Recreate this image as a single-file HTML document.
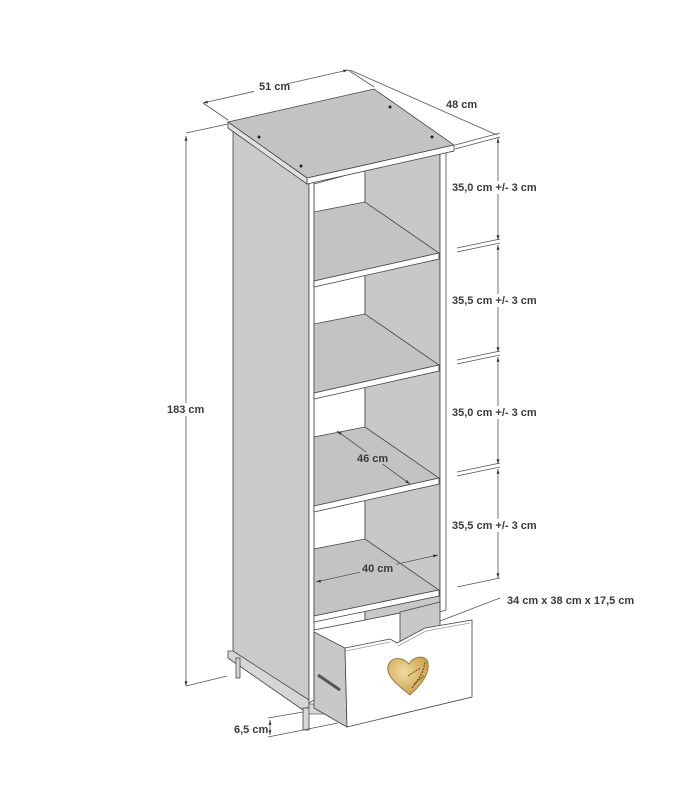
<!DOCTYPE html>
<html><head><meta charset="utf-8"><style>
html,body{margin:0;padding:0;background:#fff;}
svg{display:block;}
text{font-family:"Liberation Sans",sans-serif;font-weight:bold;font-size:11px;fill:#3a3a3a;}
</style></head><body>
<svg width="688" height="800" viewBox="0 0 688 800" xmlns="http://www.w3.org/2000/svg">
<defs>
<marker id="a" viewBox="0 0 10 10" refX="10" refY="5" markerWidth="6" markerHeight="6" orient="auto-start-reverse"><path d="M0,2 L10,5 L0,8z" fill="#333"/></marker>
<radialGradient id="g" cx="0.4" cy="0.4" r="0.7"><stop offset="0" stop-color="#f1dca0"/><stop offset="1" stop-color="#c79a45"/></radialGradient>
</defs>
<g stroke="#444" stroke-width="0.8">
<!-- side panel -->
<polygon points="233,128 309,178 309,703 233,652" fill="#cacaca"/>
<!-- plinth -->
<polygon points="228,651 233,651 309,700 309,707 303,710 228,658" fill="#d6d6d6"/>
<rect x="236" y="658" width="4" height="20" fill="#d6d6d6"/>
<rect x="303" y="708" width="6" height="22" fill="#d6d6d6"/>
<rect x="309" y="704" width="40" height="10" fill="#d6d6d6" stroke="#666"/>
<!-- inner back white and right wall -->
<polygon points="314,184 365,170 365,620 314,630" fill="#fff"/>
<polygon points="365,170 440,152 440,605 365,620" fill="#c8c8c8"/>
<!-- right front strip -->
<polygon points="440,151 446,150 446,610 440,612" fill="#fff"/>
<!-- left front strip -->
<polygon points="309,180 314,182 314,700 309,703" fill="#fff"/>
</g>
<!-- shelves -->
<g stroke="#444" stroke-width="0.8">
<polygon points="314,212 365,202 439,253 314,281" fill="#c3c3c3"/>
<polygon points="314,281 439,253 439,259 314,287" fill="#fff"/>
<polygon points="314,324 365,314 439,365 314,393" fill="#c3c3c3"/>
<polygon points="314,393 439,365 439,371 314,399" fill="#fff"/>
<polygon points="314,437 365,427 439,478 314,506" fill="#c3c3c3"/>
<polygon points="314,506 439,478 439,484 314,512" fill="#fff"/>
<polygon points="314,549 365,539 439,590 314,616" fill="#c3c3c3"/>
<polygon points="314,616 439,590 439,596 314,622" fill="#fff"/>
</g>
<!-- top slab -->
<g stroke="#444" stroke-width="0.8">
<polygon points="228,122 374,89 454,145 307,178" fill="#c3c3c3"/>
<polygon points="228,122 307,178 307,184 228,128" fill="#e0e0e0"/>
<polygon points="307,178 454,145 454,151 307,184" fill="#fff"/>
</g>
<g fill="#222"><circle cx="259" cy="137" r="1.5"/><circle cx="390" cy="107" r="1.5"/><circle cx="432" cy="137" r="1.5"/><circle cx="301" cy="166" r="1.5"/></g>
<!-- drawer -->
<g stroke="#444" stroke-width="0.8">
<polygon points="400,612 440,602 440,640 400,650" fill="#c8c8c8"/>
<polygon points="314,632 345,648 347,727 314,708" fill="#c8c8c8"/>
<polygon points="345,648 390,639 397,643 425,628 472,620 472,697 347,727" fill="#fff"/>
<path d="M346,651 L390,642 M398,646 L426,631 L470,623" fill="none" stroke="#999"/>
<line x1="318" y1="675" x2="340" y2="690" stroke="#555" stroke-width="3"/>
</g>
<path d="M410,695 C396,684 386,676 388,666 C390,657 402,656 409,664 C413,656 426,654 428,663 C430,674 420,686 410,695z" fill="url(#g)" stroke="#8a6a30" stroke-width="0.8"/>
<path d="M412,688 C418,680 424,672 425,662 M408,676 L420,668 M414,684 L424,676" stroke="#7a5520" stroke-width="1.2" fill="none" stroke-dasharray="2,1"/>
<!-- dimension lines -->
<g stroke="#555" stroke-width="0.8" fill="none">
<line x1="203" y1="103" x2="228" y2="120"/>
<line x1="348" y1="70" x2="374" y2="87"/>
<line x1="203" y1="103" x2="348" y2="70" marker-start="url(#a)" marker-end="url(#a)"/>
<line x1="350" y1="70" x2="497" y2="135"/>
<line x1="455" y1="145" x2="500" y2="133"/>
<line x1="455" y1="149" x2="500" y2="137"/>
<line x1="186" y1="136" x2="186" y2="686" marker-start="url(#a)" marker-end="url(#a)"/>
<line x1="186" y1="133" x2="228" y2="124"/>
<line x1="186" y1="686" x2="227" y2="676"/>
<line x1="457" y1="248" x2="500" y2="239"/><line x1="457" y1="252" x2="500" y2="243"/>
<line x1="457" y1="360" x2="500" y2="351"/><line x1="457" y1="364" x2="500" y2="355"/>
<line x1="457" y1="472" x2="500" y2="463"/><line x1="457" y1="476" x2="500" y2="467"/>
<line x1="457" y1="587" x2="500" y2="578"/>
<line x1="498" y1="138" x2="498" y2="240" marker-start="url(#a)" marker-end="url(#a)"/>
<line x1="498" y1="245" x2="498" y2="352" marker-start="url(#a)" marker-end="url(#a)"/>
<line x1="498" y1="357" x2="498" y2="464" marker-start="url(#a)" marker-end="url(#a)"/>
<line x1="498" y1="469" x2="498" y2="578" marker-start="url(#a)" marker-end="url(#a)"/>
<line x1="337" y1="431" x2="410" y2="484" marker-start="url(#a)" marker-end="url(#a)"/>
<line x1="316" y1="582" x2="438" y2="555" marker-start="url(#a)" marker-end="url(#a)"/>
<line x1="440" y1="621" x2="500" y2="598"/>
<line x1="268" y1="718" x2="303" y2="712"/>
<line x1="268" y1="737" x2="338" y2="723"/>
<line x1="270" y1="720" x2="270" y2="735" marker-start="url(#a)" marker-end="url(#a)"/>
</g>
<g>
<rect x="254" y="80" width="32" height="12" fill="#fff"/><text x="259" y="90">51 cm</text>
<rect x="444" y="98" width="34" height="12" fill="#fff"/><text x="446" y="108">48 cm</text>
<rect x="165" y="403" width="42" height="13" fill="#fff"/><text x="167" y="413">183 cm</text>
<rect x="450" y="181" width="96" height="13" fill="#fff"/><text x="452" y="191">35,0 cm +/- 3 cm</text>
<rect x="450" y="294" width="96" height="13" fill="#fff"/><text x="452" y="304">35,5 cm +/- 3 cm</text>
<rect x="450" y="406" width="96" height="13" fill="#fff"/><text x="452" y="416">35,0 cm +/- 3 cm</text>
<rect x="450" y="519" width="96" height="13" fill="#fff"/><text x="452" y="529">35,5 cm +/- 3 cm</text>
<rect x="355" y="452" width="36" height="12" fill="#c3c3c3"/><text x="357" y="462">46 cm</text>
<rect x="360" y="562" width="36" height="12" fill="#c3c3c3"/><text x="362" y="572">40 cm</text>
<text x="507" y="604">34 cm x 38 cm x 17,5 cm</text>
<text x="234" y="733">6,5 cm</text>
</g>
</svg>
</body></html>
